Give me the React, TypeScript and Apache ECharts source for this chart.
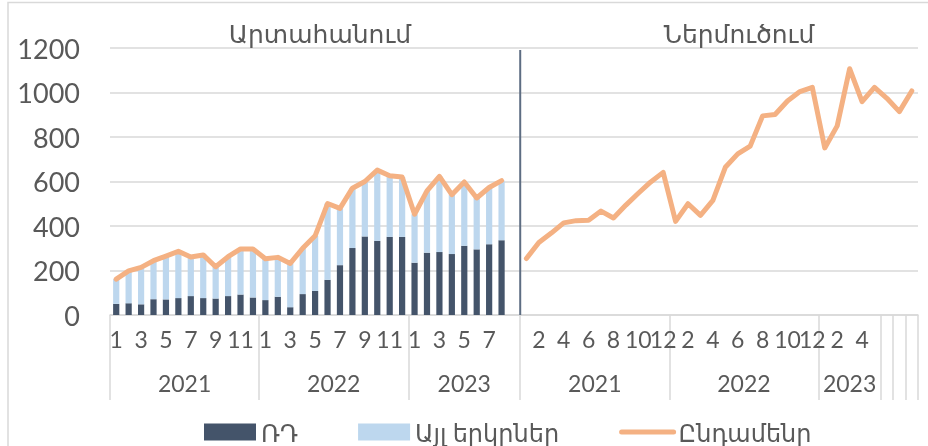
import React, { useEffect, useRef } from 'react';
import * as echarts from 'echarts';

const FONT = "Lato, 'DejaVu Sans', sans-serif";
const TEXT = '#595959';

// Axis structure: year groups with their months (left: export, right: import)
const m12 = ['1', '2', '3', '4', '5', '6', '7', '8', '9', '10', '11', '12'];
const axisGroups = [
  { year: '2021', months: m12 },
  { year: '2022', months: m12 },
  { year: '2023', months: ['1', '2', '3', '4', '5', '6', '7', '8', ''] },
  { year: '2021', months: m12 },
  { year: '2022', months: m12 },
  { year: '2023', months: ['1', '2', '3', '4', '5'] },
  { year: '', months: ['6'] },
  { year: '', months: ['7'] },
  { year: '', months: ['8'] },
];

const panelTitles = ['Արտահանում', 'Ներմուծում'];
const seriesNames = ['ՌԴ', 'Այլ երկրներ', 'Ընդամենր'];

// Export (2021-01 .. 2023-08)
const exportRD = [50, 53, 48, 71, 70, 76, 85, 76, 74, 85, 92, 79, 67, 82, 35, 94, 108, 158, 224, 301, 353, 333, 351, 351, 235, 280, 283, 274, 311, 295, 318, 336];
const exportOther = [111, 145, 166, 173, 195, 210, 176, 194, 143, 177, 205, 218, 186, 177, 197, 206, 248, 343, 255, 269, 247, 318, 275, 269, 218, 278, 340, 267, 287, 231, 255, 268];
const exportTotal = [161, 198, 214, 244, 265, 286, 261, 270, 217, 262, 297, 297, 253, 259, 232, 300, 356, 501, 479, 570, 600, 651, 626, 620, 453, 558, 623, 541, 598, 526, 573, 604];
// Import (2021-01 .. 2023-08)
const importTotal = [254, 326, 368, 414, 424, 426, 467, 436, 494, 547, 598, 641, 421, 500, 448, 515, 664, 724, 759, 895, 901, 962, 1004, 1023, 751, 850, 1107, 959, 1023, 974, 914, 1007];

const yTicks = { min: 0, max: 1200, interval: 200 };

export default function App() {
  const ref = useRef<HTMLDivElement>(null);
  useEffect(() => {
    if (!ref.current) return;
    const chart = echarts.init(ref.current, undefined, { renderer: 'svg' });

    const cats: string[] = [];
    const monthLabels: string[] = [];
    const groupStarts: number[] = [];
    axisGroups.forEach((g, gi) => {
      groupStarts.push(cats.length);
      g.months.forEach((m) => {
        const idx = cats.length;
        cats.push(`${gi}-${m}-${idx}`);
        monthLabels.push(g.year && idx % 2 === 0 ? m : '');
      });
    });
    const n = cats.length;
    const exportLen = axisGroups[0].months.length + axisGroups[1].months.length + axisGroups[2].months.length;
    const pad = (arr: number[]) => arr.concat(new Array(n - arr.length).fill(null));
    const lineData: (number | null)[] = [
      ...exportTotal,
      ...new Array(exportLen - exportTotal.length).fill(null),
      ...importTotal,
    ];

    chart.setOption({
      animation: false,
      grid: { left: 110, right: 10, top: 48, bottom: 131, containLabel: false },
      legend: {
        left: 199,
        top: 413,
        itemWidth: 52,
        itemHeight: 17,
        itemGap: 60,
        textStyle: { fontSize: 24, color: TEXT, fontFamily: FONT, lineHeight: 28 },
        data: [
          { name: seriesNames[0], icon: 'rect' },
          { name: seriesNames[1], icon: 'rect' },
          {
            name: seriesNames[2],
            itemStyle: { color: 'rgba(0,0,0,0)', borderColor: 'rgba(0,0,0,0)', borderWidth: 0, opacity: 0 },
            lineStyle: { color: '#f4b183', width: 5, cap: 'round' },
          },
        ],
      },
      xAxis: {
        type: 'category',
        data: cats,
        boundaryGap: true,
        axisLine: { lineStyle: { color: '#d9d9d9', width: 1.5 } },
        axisTick: {
          show: true,
          length: 85,
          interval: (i: number) => groupStarts.includes(i),
          lineStyle: { color: '#d9d9d9', width: 1.5 },
        },
        axisLabel: {
          interval: 0,
          formatter: (_v: string, i: number) => monthLabels[i],
          fontSize: 23,
          color: TEXT,
          fontFamily: FONT,
          margin: 12,
        },
      },
      yAxis: {
        type: 'value',
        ...yTicks,
        axisLine: { show: false },
        axisTick: { show: false },
        axisLabel: {
          fontSize: 27,
          color: TEXT,
          fontFamily: FONT,
          margin: 30,
          formatter: (v: number) => String(v),
        },
        splitLine: { lineStyle: { color: '#d9d9d9', width: 1.5 } },
      },
      series: [
        {
          name: seriesNames[0],
          type: 'bar',
          stack: 'exp',
          barWidth: '50%',
          itemStyle: { color: '#44546a' },
          data: pad(exportRD),
        },
        {
          name: seriesNames[1],
          type: 'bar',
          stack: 'exp',
          barWidth: '50%',
          itemStyle: { color: '#bdd7ee' },
          data: pad(exportOther),
        },
        {
          name: seriesNames[2],
          type: 'line',
          symbol: 'none',
          connectNulls: false,
          z: 5,
          lineStyle: { color: '#f4b183', width: 5, cap: 'round', join: 'round' },
          itemStyle: { color: '#f4b183' },
          data: lineData,
        },
      ],
    });

    const px = (i: number) => chart.convertToPixel({ xAxisIndex: 0 }, i) as number;
    const band = px(1) - px(0);
    const yTop = chart.convertToPixel({ yAxisIndex: 0 }, yTicks.max) as number;
    const yBot = chart.convertToPixel({ yAxisIndex: 0 }, yTicks.min) as number;
    const sepX = px(exportLen - 1) + band / 2;

    const graphics: any[] = [
      {
        type: 'rect',
        shape: { x: 8, y: 2.5, width: 940, height: 460 },
        style: { fill: 'none', stroke: '#d9d9d9', lineWidth: 1.5 },
        silent: true,
      },
      {
        type: 'line',
        shape: { x1: sepX, y1: yTop + 2, x2: sepX, y2: yBot },
        style: { stroke: '#5d6d82', lineWidth: 2 },
        z: 10,
      },
      {
        type: 'text',
        x: 320,
        y: 33,
        style: { text: panelTitles[0], fontSize: 25, fontFamily: FONT, fill: TEXT, align: 'center', verticalAlign: 'middle' },
      },
      {
        type: 'text',
        x: 739,
        y: 33,
        style: { text: panelTitles[1], fontSize: 25, fontFamily: FONT, fill: TEXT, align: 'center', verticalAlign: 'middle' },
      },
    ];
    axisGroups.forEach((g, gi) => {
      if (!g.year) return;
      const s = groupStarts[gi];
      const e = s + g.months.length - 1;
      graphics.push({
        type: 'text',
        x: (px(s) + px(e)) / 2,
        y: 383,
        style: { text: g.year, fontSize: 23, fontFamily: FONT, fill: TEXT, align: 'center', verticalAlign: 'middle' },
      });
    });
    chart.setOption({ graphic: graphics });

    return () => chart.dispose();
  }, []);

  return <div ref={ref} style={{ position: 'fixed', left: 0, top: 0, width: 928, height: 446 }} />;
}
